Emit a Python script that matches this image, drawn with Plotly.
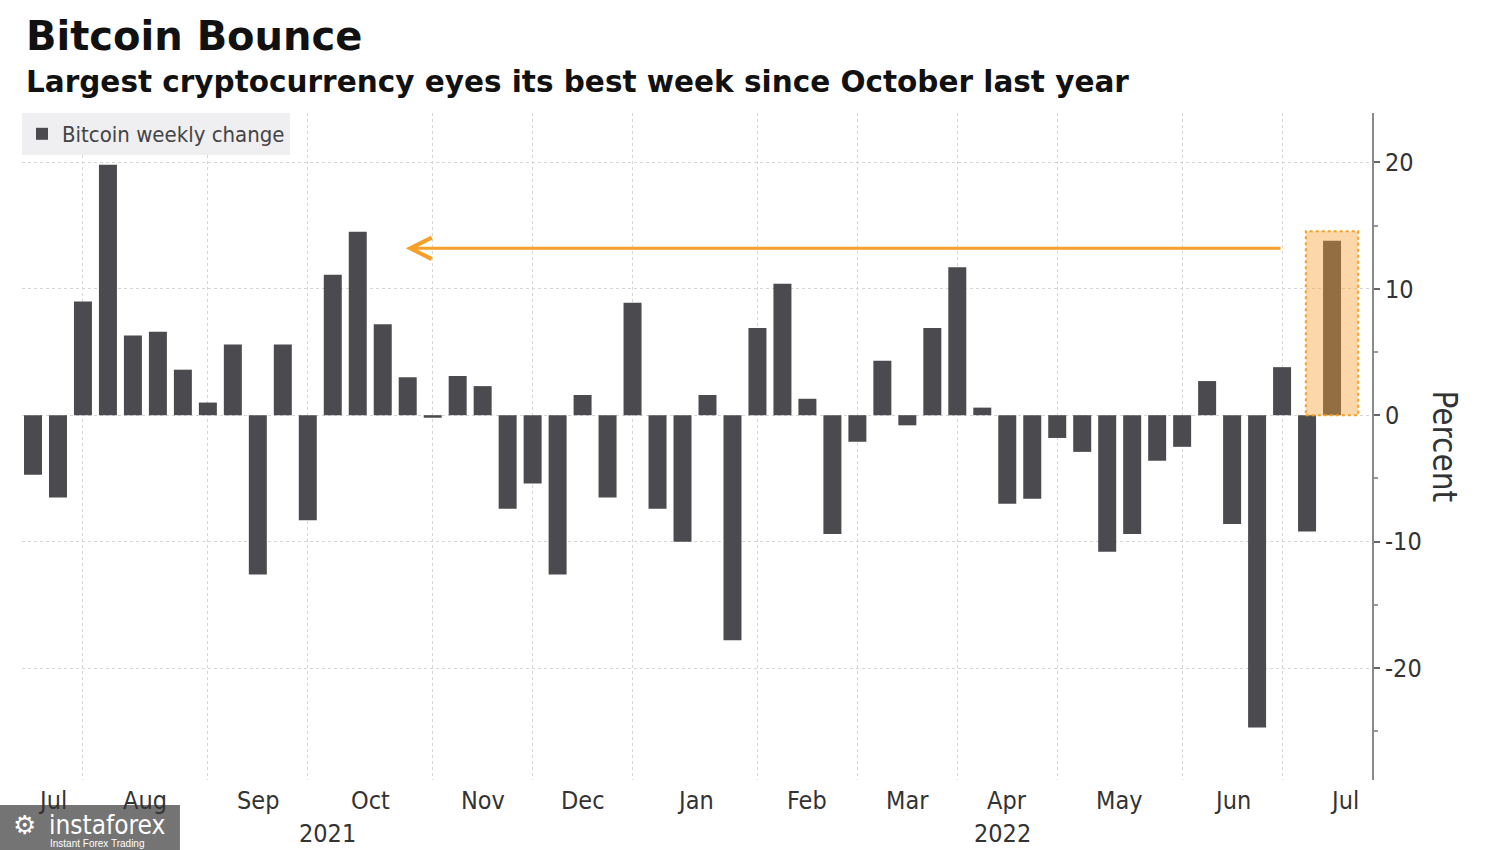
import pandas as pd
import plotly.graph_objects as go

# ---------------- data ----------------
week_ending = pd.date_range("2021-07-18", "2022-07-17", freq="W-SUN")
weekly_change = [-4.7, -6.5, 9.0, 19.8, 6.3, 6.6, 3.6, 1.0, 5.6, -12.6,
                 5.6, -8.3, 11.1, 14.5, 7.2, 3.0, -0.2, 3.1, 2.3, -7.4,
                 -5.4, -12.6, 1.6, -6.5, 8.9, -7.4, -10.0, 1.6, -17.8, 6.9,
                 10.4, 1.3, -9.4, -2.1, 4.3, -0.8, 6.9, 11.7, 0.6, -7.0,
                 -6.6, -1.8, -2.9, -10.8, -9.4, -3.6, -2.5, 2.7, -8.6, -24.7,
                 3.8, -9.2, 13.8]
series_name = "Bitcoin weekly change"
title_text = "Bitcoin Bounce"
subtitle_text = "Largest cryptocurrency eyes its best week since October last year"
y_tick_values = [-20, -10, 0, 10, 20]
y_tick_labels = ["-20", "-10", "0", "10", "20"]
y_axis_title = "Percent"
compare_week = "2021-10-17"   # best week since (October last year)

# ---------------- styling ----------------
BAR = "#4a4a4f"
ORANGE = "#f5a02a"
GRID = "#d6d6d6"
TXT = "#333333"
COND = "DejaVu Sans Condensed, DejaVu Sans, sans-serif"
BOLD = "DejaVu Sans, sans-serif"

cats = [d.strftime("%Y-%m-%d") for d in week_ending]
n = len(cats)
x_left, x_right = -0.44, n - 1 + 1.6
y_lo, y_hi = -28.85, 23.9

# month starts (first weekly bar of each month)
months = week_ending.to_period("M")
starts = [i for i in range(n) if i == 0 or months[i] != months[i - 1]]
grid_cats = [cats[i] for i in starts if i != 0]

fig = go.Figure()
fig.add_trace(go.Bar(
    x=cats, y=weekly_change, name=series_name,
    marker=dict(color=BAR, line=dict(width=0)),
    width=0.72, showlegend=True,
))

annotations = []
# month labels centred between month gridlines
for k, s in enumerate(starts):
    per = months[s]
    if k + 1 < len(starts):
        nxt = starts[k + 1]
    else:
        nweeks = len(pd.date_range(per.start_time, per.end_time, freq="W-SUN"))
        nxt = s + nweeks
    left = s if k > 0 else x_left
    centre = (left + nxt) / 2
    annotations.append(dict(x=centre, xref="x", y=-0.031, yref="paper",
                            text=per.strftime("%b"), showarrow=False,
                            font=dict(family=COND, size=25, color=TXT),
                            xanchor="center", yanchor="middle"))
# year labels
year_start = [i for i in range(n) if i > 0 and week_ending[i].year != week_ending[i - 1].year][0]
for cx, yr in [((x_left + year_start) / 2, week_ending[0].year),
               ((year_start + x_right) / 2, week_ending[-1].year)]:
    annotations.append(dict(x=cx, xref="x", y=-0.080, yref="paper",
                            text=str(yr), showarrow=False,
                            xanchor="center", yanchor="middle",
                            font=dict(family=COND, size=25, color=TXT)))

# arrow from latest week back to October
last_i = n - 1
last_v = weekly_change[-1]
cmp_i = cats.index(compare_week)
arrow_y = last_v - 0.6
annotations.append(dict(x=cmp_i + 1.92, y=arrow_y, xref="x", yref="y",
                        ax=starts[-1], ay=arrow_y, axref="x", ayref="y",
                        showarrow=True, arrowhead=5, arrowsize=1.4,
                        arrowwidth=3, arrowcolor=ORANGE, text=""))

# titles
annotations.append(dict(x=0.0015, y=1.115, xref="paper", yref="paper",
                        text="<b>" + title_text + "</b>", showarrow=False,
                        xanchor="left", yanchor="middle",
                        font=dict(family=BOLD, size=40, color="#111111")))
annotations.append(dict(x=0.0015, y=1.046, xref="paper", yref="paper",
                        text="<b>" + subtitle_text + "</b>", showarrow=False,
                        xanchor="left", yanchor="middle",
                        font=dict(family=BOLD, size=29.5, color="#111111")))
# axis title
annotations.append(dict(x=1.054, y=0.5, xref="paper", yref="paper",
                        text=y_axis_title, showarrow=False, textangle=90,
                        xanchor="center", yanchor="middle",
                        font=dict(family=COND, size=33, color=TXT)))
# watermark
annotations.append(dict(x=0.0015, y=-0.068, xref="paper", yref="paper",
                        text="⚙", showarrow=False, xanchor="center", yanchor="middle",
                        font=dict(family="DejaVu Sans, sans-serif", size=26, color="#ffffff")))
annotations.append(dict(x=0.0185, y=-0.068, xref="paper", yref="paper",
                        text="instaforex", showarrow=False, xanchor="left", yanchor="middle",
                        font=dict(family="DejaVu Sans Condensed, sans-serif", size=26, color="#ffffff")))
annotations.append(dict(x=0.0195, y=-0.0955, xref="paper", yref="paper",
                        text="Instant Forex Trading", showarrow=False, xanchor="left", yanchor="middle",
                        font=dict(family="Liberation Sans, sans-serif", size=10, color="#ffffff")))

shapes = [
    # highlight box around latest week
    dict(type="rect", xref="x", yref="y", x0=last_i - 1.05, x1=last_i + 1.05,
         y0=0, y1=last_v + 0.75, layer="above",
         fillcolor="rgba(245,160,50,0.42)",
         line=dict(color=ORANGE, width=2, dash="dot")),
    # watermark box
    dict(type="rect", xref="paper", yref="paper", x0=-0.0163, x1=0.117,
         y0=-0.0375, y1=-0.105, fillcolor="#747474", line=dict(width=0), layer="above"),
]

fig.update_layout(
    width=1500, height=850,
    margin=dict(l=22, r=128, t=113, b=70),
    paper_bgcolor="white", plot_bgcolor="white",
    showlegend=True,
    legend=dict(x=0, y=1, xanchor="left", yanchor="top",
                bgcolor="#efeff1", borderwidth=0,
                font=dict(family=COND, size=22, color="#444444"),
                itemwidth=30, itemsizing="constant"),
    annotations=annotations,
    shapes=shapes,
    xaxis=dict(type="category", range=[x_left, x_right],
               tickmode="array", tickvals=grid_cats, ticktext=[""] * len(grid_cats),
               showgrid=True, gridcolor=GRID, griddash="dot", gridwidth=1,
               ticks="", showticklabels=False, showline=False, zeroline=False),
    yaxis=dict(side="right", range=[y_lo, y_hi],
               tickmode="array", tickvals=y_tick_values, ticktext=y_tick_labels,
               showgrid=True, gridcolor=GRID, griddash="dot", gridwidth=1,
               zeroline=False, showline=True, linecolor="#8a8a8a", linewidth=2,
               ticks="outside", ticklen=6, tickcolor="#666666", tickwidth=2,
               tickfont=dict(family=COND, size=25, color=TXT),
               minor=dict(dtick=5, tick0=0, ticks="outside", ticklen=4,
                          tickcolor="#999999", showgrid=False)),
)

fig.write_html("out.html")
